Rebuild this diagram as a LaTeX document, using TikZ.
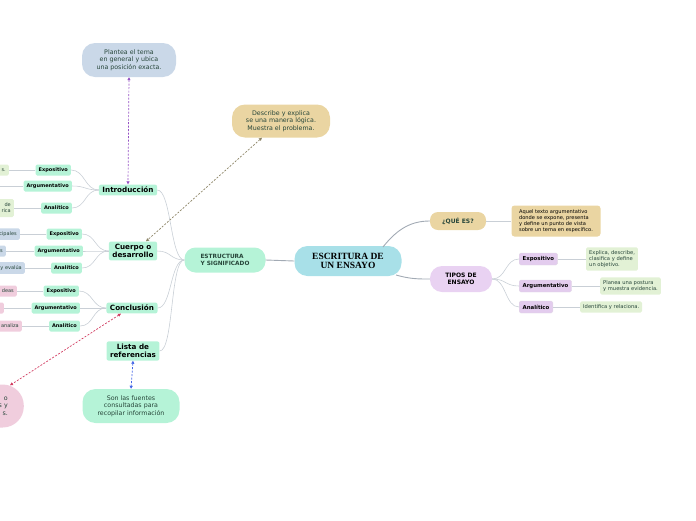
\documentclass[tikz,border=0pt]{standalone}
\usepackage{fontspec}
\setmainfont{DejaVu Sans}
\newfontfamily\titlefont{Liberation Serif}
\usetikzlibrary{arrows.meta}

\definecolor{maincyan}{HTML}{A8E0E8}
\definecolor{mint}{HTML}{B5F3D7}
\definecolor{tan}{HTML}{EAD5A2}
\definecolor{lavender}{HTML}{E9D2F2}
\definecolor{purplebox}{HTML}{E3CCEE}
\definecolor{leafgreen}{HTML}{E2F1D5}
\definecolor{bluegray}{HTML}{CAD8E8}
\definecolor{pinkbox}{HTML}{F0CDDD}
\definecolor{linegray}{HTML}{C9CFD6}
\definecolor{maingray}{HTML}{A2AAB4}
\definecolor{textdark}{HTML}{27463A}
\definecolor{linkpurple}{HTML}{9552C4}
\definecolor{linkolive}{HTML}{8C8466}
\definecolor{linkred}{HTML}{D23E62}
\definecolor{linkblue}{HTML}{4466E6}

\tikzset{
  topic/.style={fill=mint, rounded corners=2pt, font=\bfseries\fontsize{7.2}{8.5}\selectfont,
    inner xsep=3.5pt, inner ysep=2.5pt, align=center},
  sub/.style={fill=mint, rounded corners=1.5pt, font=\bfseries\fontsize{5}{6}\selectfont,
    inner xsep=3pt, inner ysep=1pt, minimum height=11pt, anchor=east},
  leaf/.style={rounded corners=1.5pt, font=\fontsize{5}{6}\selectfont, text=textdark,
    anchor=east, text width=50pt, align=right, inner xsep=3pt, minimum height=11pt},
  kind/.style={fill=purplebox, draw=purplebox!80!black!40, line width=0.3pt, rounded corners=1.5pt,
    font=\bfseries\fontsize{5.4}{6.5}\selectfont, inner xsep=3.5pt, minimum height=12pt, anchor=west},
  kindleaf/.style={fill=leafgreen, rounded corners=1.5pt, font=\fontsize{5.2}{6.2}\selectfont,
    text=textdark, align=left, inner sep=3pt, anchor=west},
  note/.style={rounded corners=13pt, font=\fontsize{6.3}{7.6}\selectfont, text=textdark,
    align=center, minimum height=34pt},
  branch/.style={draw=linegray, line width=0.6pt},
  link/.style={dash pattern=on 2pt off 1.5pt, line width=0.7pt,
    {Triangle[length=3pt,width=3pt]}-{Triangle[length=3pt,width=3pt]}},
}

\begin{document}
\begin{tikzpicture}[x=1pt,y=-1pt]
  \useasboundingbox (0,0) rectangle (696,520);
  \clip (0,0) rectangle (696,520);

  % centre and first level
  \node[fill=maincyan, rounded corners=13pt, minimum width=107pt, minimum height=30pt,
    font=\titlefont\bfseries\fontsize{9.5}{9.5}\selectfont, align=center] (essay) at (348,261)
    {ESCRITURA DE\\UN ENSAYO};
  \node[fill=mint, rounded corners=11pt, minimum width=81pt, minimum height=25pt,
    font=\bfseries\fontsize{5.8}{6.8}\selectfont, text=textdark, align=left] (struct) at (225,260)
    {ESTRUCTURA\\Y SIGNIFICADO};
  \node[fill=tan, rounded corners=8pt, minimum width=56pt, minimum height=18pt,
    font=\bfseries\fontsize{6}{7}\selectfont, text=textdark] (what) at (458,221) {¿QUÉ ES?};
  \node[fill=lavender, rounded corners=12pt, minimum width=62pt, minimum height=26pt,
    font=\bfseries\fontsize{6}{7.2}\selectfont, align=center] (types) at (461,279)
    {TIPOS DE\\ENSAYO};

  \draw[draw=maingray, line width=0.9pt] (essay.west) -- (struct.east);
  \draw[draw=maingray, line width=0.9pt] (383,247) .. controls (398,228) and (412,221) .. (what.west);
  \draw[draw=maingray, line width=0.9pt] (396,275) .. controls (410,279) and (418,279) .. (types.west);

  % what it is
  \node[fill=tan, rounded corners=3pt, minimum width=89pt, minimum height=31pt,
    font=\fontsize{5.1}{6.2}\selectfont, align=left, inner sep=3pt] (whatdef) at (556,221)
    {Aquel texto argumentativo\\donde se expone, presenta\\y define un punto de vista\\sobre un tema en específico.};
  \draw[branch] (what.east) -- (whatdef.west);

  % types
  \node[kind] (tExp) at (519,259) {Expositivo};
  \node[kind] (tArg) at (519,286) {Argumentativo};
  \node[kind] (tAna) at (519,307) {Analítico};
  \foreach \k in {tExp,tArg,tAna}
    \draw[branch] (types.east) .. controls +(14,0) and +(-14,0) .. (\k.west);
  \node[kindleaf] (lExp) at (586,259) {Explica, describe,\\clasifica y define\\un objetivo.};
  \node[kindleaf] (lArg) at (600,286) {Planea una postura\\y muestra evidencia.};
  \node[kindleaf] (lAna) at (580,307) {Identifica y relaciona.};
  \draw[branch] (tExp.east) -- (lExp.west);
  \draw[branch] (tArg.east) -- (lArg.west);
  \draw[branch] (tAna.east) -- (lAna.west);

  % structure parts
  \node[topic] (intro) at (128,190) {Introducción};
  \node[topic] (body) at (133,251) {Cuerpo o\\desarrollo};
  \node[topic] (concl) at (132,308) {Conclusión};
  \node[topic] (refs) at (133,351) {Lista de\\referencias};
  \foreach \p in {intro,body,concl,refs}
    \draw[branch] (struct.west) .. controls +(-14,0) and +(14,0) .. (\p.east);

  % introduction
  \node[sub] (iExp) at (71,170) {Expositivo};
  \node[sub] (iArg) at (72,186) {Argumentativo};
  \node[sub] (iAna) at (72,208) {Analítico};
  \node[leaf, fill=leafgreen] (iExpL) at (9,170) {s.};
  \coordinate (iArgL) at (0,186);
  \node[leaf, fill=leafgreen, minimum height=18pt, inner ysep=1pt] (iAnaL) at (14,208) {de\hspace{5pt}\\rica};

  % body
  \node[sub] (bExp) at (82,234) {Expositivo};
  \node[sub] (bArg) at (83,251) {Argumentativo};
  \node[sub] (bAna) at (82,268) {Analítico};
  \node[leaf, fill=bluegray] (bExpL) at (20,234) {cipales};
  \node[leaf, fill=bluegray] (bArgL) at (6,251) {s};
  \node[leaf, fill=bluegray] (bAnaL) at (25,268) {y evalúa};

  % conclusion
  \node[sub] (cExp) at (79,291) {Expositivo};
  \node[sub] (cArg) at (80,308) {Argumentativo};
  \node[sub] (cAna) at (80,326) {Analítico};
  \node[leaf, fill=pinkbox] (cExpL) at (17,291) {deas};
  \node[leaf, fill=pinkbox] (cArgL) at (4,308) {};
  \node[leaf, fill=pinkbox] (cAnaL) at (22,326) {analiza};

  \foreach \p/\s in {intro/iExp,intro/iArg,intro/iAna,body/bExp,body/bArg,body/bAna,
                     concl/cExp,concl/cArg,concl/cAna}
    \draw[branch] (\p.west) .. controls +(-14,0) and +(14,0) .. (\s.east);
  \foreach \s/\l in {iExp/iExpL,iArg/iArgL,iAna/iAnaL,bExp/bExpL,bArg/bArgL,bAna/bAnaL,
                     cExp/cExpL,cArg/cArgL,cAna/cAnaL}
    \draw[branch] (\s.west) -- (\l);

  % notes
  \node[note, fill=bluegray, minimum width=94pt] (introNote) at (129,60)
    {Plantea el tema\\en general y ubica\\una posición exacta.};
  \node[note, fill=tan, minimum width=98pt, minimum height=33pt] (bodyNote) at (281,121)
    {Describe y explica\\se una manera lógica.\\Muestra el problema.};
  \node[note, fill=mint, minimum width=97pt] (refsNote) at (131,406)
    {Son las fuentes\\consultadas para\\recopilar información};
  \node[note, fill=pinkbox, rounded corners=21pt, anchor=east, minimum height=43pt,
    text width=40pt, align=right, inner xsep=16pt] (conclNote) at (24,406)
    {o\hspace{3pt}\\s y\\s.\hspace{2pt}};

  \draw[link, linkpurple] (introNote.south) -- (intro.north);
  \draw[link, linkolive] ([xshift=-19pt]bodyNote.south) -- ([xshift=13pt]body.north);
  \draw[link, linkred] ([xshift=-11pt]concl.south) -- ([xshift=-14pt, yshift=-1pt]conclNote.north east);
  \draw[link, linkblue] (refs.south) -- (refsNote.north);
\end{tikzpicture}
\end{document}
